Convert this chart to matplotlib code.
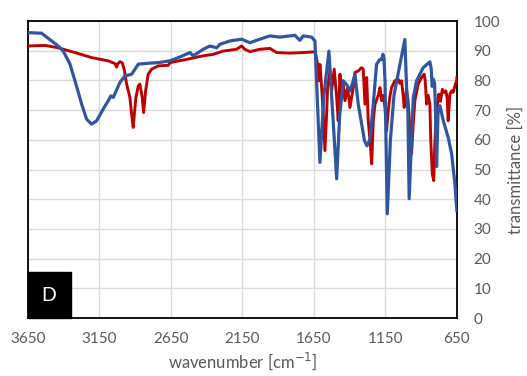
import numpy as np
import matplotlib.pyplot as plt
from matplotlib.patches import Rectangle

plt.rcParams['font.family'] = ['Lato', 'DejaVu Sans']

# blue spectrum
wn_blue = [3650, 3554, 3484, 3438, 3403, 3356, 3321, 3274, 3240, 3205, 3170, 3123, 3088, 3070, 3053,
           3007, 2972, 2925, 2878, 2809, 2739, 2657, 2587, 2517, 2494, 2424, 2377, 2330, 2307, 2237,
           2156, 2098, 2028, 1958, 1888, 1783, 1748, 1725, 1666, 1643, 1608, 1580, 1545, 1520, 1491,
           1470, 1445, 1420, 1398, 1380, 1363, 1340, 1316, 1296, 1279, 1258, 1235, 1212, 1190, 1177,
           1167, 1160, 1153, 1137, 1115, 1090, 1050, 1014, 1000, 993, 984, 955, 932, 886, 839,
           830, 823, 815, 806, 799, 792, 781, 769, 745, 711, 687, 664, 655, 650]
t_blue = [96.1, 95.9, 93.3, 91.6, 89.9, 85.5, 79.9, 72.0, 67.0, 65.3, 66.4, 70.4, 73.2, 74.8, 74.3,
          79.3, 81.5, 82.1, 85.5, 85.8, 86.0, 86.6, 87.9, 89.4, 88.3, 90.5, 91.6, 91.0, 92.2, 93.3,
          93.9, 92.7, 93.9, 95.0, 94.6, 95.2, 93.5, 95.0, 94.6, 93.3, 52.4, 75.0, 89.9, 70.0, 46.9,
          68.0, 79.9, 78.5, 76.5, 79.0, 82.1, 72.0, 65.3, 59.7, 58.0, 60.0, 72.0, 85.4, 87.0, 87.1,
          88.8, 87.5, 80.0, 35.1, 60.0, 75.0, 85.0, 93.8, 75.0, 70.0, 40.2, 74.3, 79.9, 84.3, 86.3,
          84.0, 78.0, 80.4, 79.0, 68.7, 51.0, 70.9, 71.5, 66.4, 60.8, 55.3, 45.2, 39.0, 36.2]

# red spectrum
wn_red = [3650, 3531, 3438, 3321, 3205, 3088, 3042, 3030, 3023, 3007, 2991, 2977, 2960, 2937, 2925,
          2914, 2895, 2878, 2867, 2851, 2841, 2827, 2809, 2785, 2739, 2669, 2657, 2540, 2424, 2354,
          2284, 2191, 2156, 2133, 2098, 2028, 1958, 1911, 1818, 1725, 1655, 1640, 1620, 1615, 1608,
          1596, 1585, 1573, 1561, 1554, 1538, 1526, 1508, 1491, 1480, 1468, 1456, 1445, 1433, 1414,
          1398, 1375, 1363, 1340, 1317, 1305, 1293, 1281, 1270, 1258, 1246, 1235, 1223, 1200, 1188,
          1177, 1165, 1153, 1142, 1130, 1119, 1107, 1084, 1060, 1049, 1037, 1026, 1019, 1002, 991,
          979, 967, 956, 944, 921, 897, 879, 872, 862, 851, 839, 833, 822, 812, 805,
          797, 786, 776, 765, 752, 740, 727, 718, 711, 699, 687, 676, 665, 652, 650]
t_red = [91.6, 91.8, 91.0, 89.4, 87.7, 86.6, 85.7, 84.5, 85.5, 86.3, 86.0, 83.8, 78.8, 74.3, 68.7,
         64.2, 74.3, 78.2, 78.8, 74.3, 69.2, 76.5, 82.1, 83.8, 84.9, 85.1, 86.0, 87.1, 88.3, 88.8,
         89.9, 90.5, 91.6, 90.5, 89.7, 90.5, 90.8, 89.4, 89.2, 89.4, 89.6, 89.5, 84.3, 79.9, 85.4,
         77.6, 69.0, 56.4, 69.0, 77.6, 83.2, 76.5, 83.8, 74.3, 66.4, 82.1, 74.3, 78.8, 73.2, 77.6,
         70.9, 77.6, 82.7, 83.2, 84.3, 83.8, 72.0, 81.0, 66.4, 60.0, 51.9, 66.4, 72.0, 75.0, 77.6,
         73.2, 75.0, 70.9, 63.1, 70.0, 74.5, 77.6, 79.9, 80.4, 79.0, 79.9, 75.0, 70.9, 77.0, 73.0,
         64.2, 55.3, 65.0, 73.2, 78.8, 81.0, 82.1, 80.0, 72.0, 75.0, 72.0, 60.0, 48.5, 46.3, 58.0,
         66.4, 72.0, 75.4, 73.0, 77.0, 76.0, 76.5, 74.0, 66.4, 75.4, 76.5, 76.0, 78.0, 80.0, 81.0]

xticks = [3650, 3150, 2650, 2150, 1650, 1150, 650]
yticks = list(range(0, 101, 10))

grey = '#595959'

fig = plt.figure(figsize=(5.27, 3.76), dpi=100)
ax = fig.add_axes([0.053, 0.154, 0.814, 0.79])

ax.plot(wn_red, t_red, color='#C00000', lw=2.1, zorder=3)
ax.plot(wn_blue, t_blue, color='#2F569E', lw=2.3, zorder=4)

ax.set_xlim(3650, 650)
ax.set_ylim(0, 100)
ax.set_xticks(xticks)
ax.set_yticks(yticks)
ax.grid(True, color='#D9D9D9', lw=1.0, zorder=0)
ax.yaxis.tick_right()
ax.yaxis.set_label_position('right')
ax.tick_params(length=0, labelsize=11, labelcolor=grey)
ax.tick_params(axis='x', pad=10)
ax.tick_params(axis='y', pad=12)
for s in ax.spines.values():
    s.set_color('black')
    s.set_linewidth(1.3)

ax.set_xlabel('wavenumber [cm$^{-1}$]', fontsize=12, color=grey, labelpad=3)
ax.set_ylabel('transmittance [%]', fontsize=12, color=grey, labelpad=5)

# panel tag
ax.add_patch(Rectangle((3350, 0), 300, 15.5, color='black', zorder=5, clip_on=False))
ax.text(3503, 7.7, 'D', color='white', fontsize=14, ha='center', va='center', zorder=6)

plt.savefig('out.png', dpi=100)
